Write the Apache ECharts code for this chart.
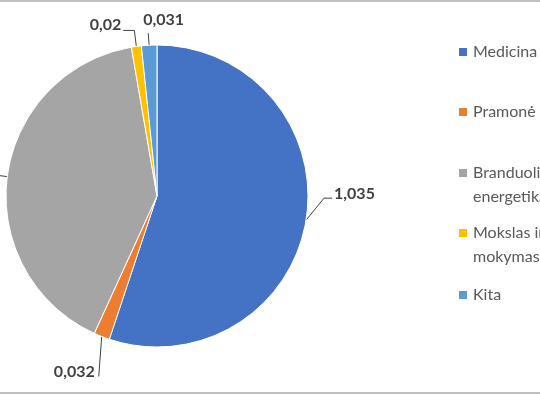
<!DOCTYPE html>
<html>
<head>
<meta charset="utf-8">
<script src="https://cdn.jsdelivr.net/npm/echarts@6/dist/echarts.min.js"></script>
<style>
  html, body { margin: 0; padding: 0; background: #fff; }
  #frame { position: relative; width: 540px; height: 394px; overflow: hidden;
           box-sizing: border-box; border-top: 2px solid #bfbfbf; border-bottom: 2px solid #bfbfbf; }
  #chart { position: absolute; left: -300px; top: -2px; width: 1140px; height: 394px; }
</style>
</head>
<body>
<div id="frame"><div id="chart"></div></div>
<script>
/*
* data
*/
var categories = ['Medicina', 'Pramonė', 'Branduolinė energetika', 'Mokslas ir mokymas', 'Kita'];
var legendLabels = ['Medicina', 'Pramonė', '\nBranduolinė\nenergetika', '\nMokslas ir\nmokymas', 'Kita'];
var values = [1.035, 0.032, 0.76, 0.02, 0.031];
var colors = ['#4472C4', '#ED7D31', '#A5A5A5', '#FFC000', '#5B9BD5'];
var legendTops = [40, 100, 137, 197, 283];

// leader line / label offsets from the slice edge point (Excel style placement)
var labelShift = [
    { elbow: [18, -22], end: [26, -22], at: [28, -26], align: 'left' },
    { elbow: [-3, 40], end: [-3, 40], at: [-7, 35], align: 'right' },
    null,
    { elbow: [-2, -16], end: [-13, -16], at: [-15, -22], align: 'right' },
    { elbow: [-1, -12], end: [-1, -12], at: [-6, -25], align: 'left' }
];

var FONT = 'Lato';

var legends = [];
for (var i = 0; i < categories.length; i++) {
    legends.push({
        orient: 'vertical',
        left: 757,
        top: legendTops[i],
        padding: 0,
        itemWidth: 10,
        itemHeight: 10,
        itemGap: 6,
        selectedMode: false,
        icon: 'rect',
        data: [categories[i]],
        formatter: (function (lbl) { return function () { return lbl; }; })(legendLabels[i]),
        textStyle: {
            color: '#595959',
            fontFamily: FONT,
            fontSize: 16,
            lineHeight: 24
        }
    });
}

var seriesData = [];
for (var j = 0; j < categories.length; j++) {
    seriesData.push({ name: categories[j], value: values[j], itemStyle: { color: colors[j] } });
}

var option = {
    animation: false,
    legend: legends,
    series: [
        {
            type: 'pie',
            center: [457, 196],
            radius: 151,
            startAngle: 90,
            clockwise: true,
            avoidLabelOverlap: false,
            itemStyle: { borderColor: '#fff', borderWidth: 1 },
            label: {
                show: true,
                position: 'outside',
                formatter: function (p) { return String(p.value).replace('.', ','); },
                color: '#404040',
                fontFamily: FONT,
                fontSize: 16,
                fontWeight: 'bold'
            },
            labelLine: {
                show: true,
                length: 10,
                length2: 10,
                lineStyle: { color: '#404040', width: 1 }
            },
            labelLayout: function (params) {
                var s = labelShift[params.dataIndex];
                var pts = params.labelLinePoints;
                if (!s || !pts) return {};
                var p0 = pts[0];
                return {
                    x: p0[0] + s.at[0],
                    y: p0[1] + s.at[1],
                    align: s.align,
                    verticalAlign: 'middle',
                    labelLinePoints: [
                        [p0[0], p0[1]],
                        [p0[0] + s.elbow[0], p0[1] + s.elbow[1]],
                        [p0[0] + s.end[0], p0[1] + s.end[1]]
                    ]
                };
            },
            data: seriesData
        }
    ]
};

var myChart = echarts.init(document.getElementById('chart'));
myChart.setOption(option);
</script>
</body>
</html>
